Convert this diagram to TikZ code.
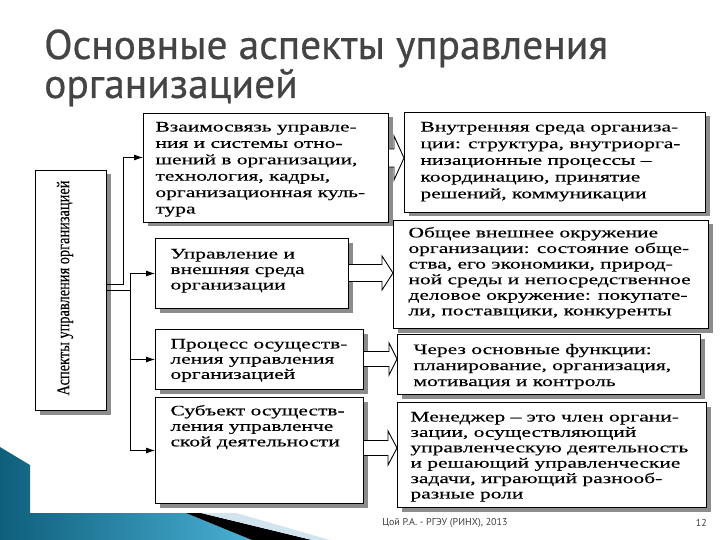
\documentclass[tikz,border=0pt]{standalone}
\usepackage{fontspec}
\setmainfont{Liberation Serif}
\newfontfamily\boxfont{Liberation Serif}[FakeStretch=1.48,FakeBold=0.3]
\newfontfamily\vertfont{Liberation Serif}[FakeStretch=0.8,FakeBold=0.2]
\newfontfamily\titlefont{PT Sans}[FakeBold=0.6]
\newfontfamily\footfont{PT Sans}
\usetikzlibrary{shadows,calc,arrows.meta}
\definecolor{titlegray}{HTML}{444444}
\definecolor{tealdark}{HTML}{0E5F7C}
\definecolor{teallight}{HTML}{4AB0D4}
\definecolor{paleblue}{HTML}{D2E5EE}
\tikzset{
  box/.style={draw=black, line width=1pt, fill=white, anchor=north west, inner sep=0pt,
    font=\boxfont\fontsize{14.5}{15.8}\selectfont,
    drop shadow={shadow xshift=4pt, shadow yshift=-4pt, fill=black!45, opacity=1}},
  conn/.style={draw=black, line width=0.8pt},
  arr/.style={conn, -{Latex[length=9pt,width=6pt]}},
  blockarr/.style={draw=black, line width=0.9pt, fill=white, line join=miter},
  titletext/.style={font=\titlefont\fontsize{41.5}{41.5}\selectfont, anchor=base west, inner sep=0pt, text=titlegray},
  foot/.style={font=\footfont\fontsize{10}{12}\selectfont, text=black!75, inner sep=0pt}
}
\newcommand\mybox[8]{\node[box] (#1) at (#2,#3) {\begin{minipage}[c][#5pt][t]{#4pt}\vspace*{#6pt}\leftskip=#7pt\relax\noindent #8\end{minipage}};}
\newcommand\lsk[1]{\fontsize{14.5}{#1}\selectfont}
\newcommand\barrow[6]{\draw[blockarr] let \p1=(#1.east), \p2=(#2.west) in
  (\x1,{-(#3-#4)*1pt}) -- ({\x2-#6*1pt},{-(#3-#4)*1pt}) -- ({\x2-#6*1pt},{-(#3-#5)*1pt})
  -- (\x2,{-#3*1pt}) -- ({\x2-#6*1pt},{-(#3+#5)*1pt}) -- ({\x2-#6*1pt},{-(#3+#4)*1pt})
  -- (\x1,{-(#3+#4)*1pt});}
\begin{document}
\begin{tikzpicture}[x=1pt,y=-1pt]
\useasboundingbox[fill=white] (0,0) rectangle (720,540);
% decoration bottom left
\shade[left color=tealdark, right color=teallight] (0,447) -- (30,465) -- (30,513) -- (186,513) -- (252,540) -- (0,540) -- cycle;
\fill[black] (186,513) -- (201,513) -- (312,540) -- (252,540) -- cycle;
\fill[paleblue] (201,513) -- (236,513) -- (330,540) -- (312,540) -- cycle;
% title
\node[titletext] (t1) at (44,59) {Основные аспекты управления};
\node[titletext] (t2) at (44,98) {организацией};
% left box
\node[box, minimum width=71pt, minimum height=240pt] (asp) at (35,170) {};
\node[font=\vertfont\fontsize{18}{20}\selectfont, rotate=90, inner sep=0pt] (asptext) at (65,288) {Аспекты управления организацией};
% boxes
\mybox{b1}{143}{113}{245}{109}{8.5}{12}{\lsk{16.4}Взаимосвязь управле-\\ния и системы отно-\\шений в организации,\\технология, кадры,\\организационная куль-\\тура}
\mybox{r1}{404}{112}{301}{100}{9.5}{16}{\lsk{16.7}Внутренняя среда организа-\\ции: структура, внутриорга-\\низационные процессы –\\координацию, принятие\\решений, коммуникации}
\mybox{r2}{393}{220}{315}{108}{6.5}{15}{\lsk{15.6}Общее внешнее окружение\\организации: состояние обще-\\ства, его экономики, природ-\\ной среды и непосредственное\\деловое окружение: покупате-\\ли, поставщики, конкуренты}
\mybox{b2}{155}{238}{193}{70}{10.5}{15}{\lsk{15.5}Управление и\\внешняя среда\\организации}
\mybox{b3}{155}{329}{208}{60}{9.5}{15}{\lsk{15.2}Процесс осуществ-\\ления управления\\организацией}
\mybox{r3}{397}{334}{303}{60}{9.5}{16}{\lsk{16}Через основные функции:\\планирование, организация,\\мотивация и контроль}
\mybox{b4}{155}{397}{208}{106}{7.5}{15}{\lsk{15.5}Субъект осуществ-\\ления управленче\\ской деятельности}
\mybox{r4}{397}{402}{309}{105}{9.5}{13}{\lsk{15.4}Менеджер – это член органи-\\зации, осуществляющий\\управленческую деятельность\\и решающий управленческие\\задачи, играющий разнооб-\\разные роли}
% connectors
\draw[arr] ([yshift=6pt]asp.east) -- ++(16,0) |- ([yshift=10.5pt]b1.west);
\draw[conn] (asp.east) -- ++(23,0) coordinate (j);
\draw[conn] (j |- b2.west) -- (j |- b4.west);
\draw[arr] (j |- b2.west) -- (b2.west);
\draw[arr] (j |- b3.west) -- (b3.west);
\draw[arr] (j |- b4.west) -- (b4.west);
% block arrows
\barrow{b1}{r1}{158}{9}{22}{10}
\barrow{b2}{r2}{273}{8.5}{17}{11}
\barrow{b3}{r3}{359}{7.5}{16}{8}
\barrow{b4}{r4}{448}{7.5}{17}{9}
% footer
\node[foot] (foot) at (445,523) {Цой Р.А. - РГЭУ (РИНХ), 2013};
\node[foot, anchor=east] (page) at (707,523) {12};
\end{tikzpicture}
\end{document}
